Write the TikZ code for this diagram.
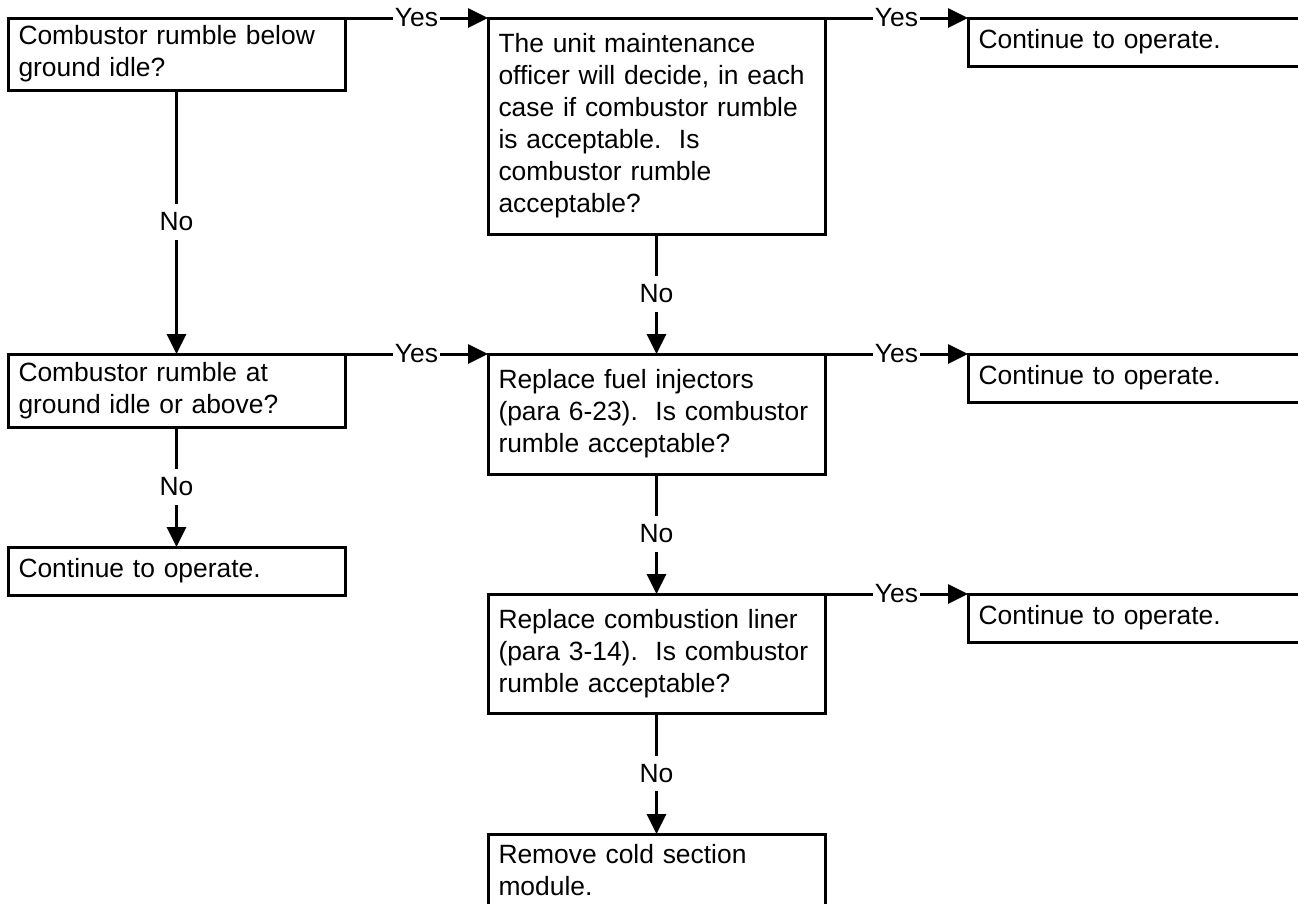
\documentclass[tikz,border=0pt]{standalone}
\usepackage{fontspec}
\setmainfont{Liberation Sans}
\usetikzlibrary{arrows.meta}
\begin{document}
\begin{tikzpicture}[x=1pt, y=-1pt,
  txt/.style={font=\fontsize{26.4}{32}\selectfont},
  box/.style={txt, draw, line width=3pt, rectangle, anchor=north west,
    outer sep=0pt, inner xsep=10.5pt, inner ysep=0pt, align=left,
    text width=316pt},
  widebox/.style={box, text width=379pt},
  lbl/.style={txt, fill=white, inner xsep=2pt, inner ysep=8.5pt},
  conn/.style={line width=3pt, -{Triangle[length=20pt,width=19pt]}}
]
\useasboundingbox (0,0) rectangle (1298,903);
\clip (0,0) rectangle (1298,903);

% left column
\node[box, minimum height=72pt] (a1) at (8,18)
  {Combustor rumble below\\ground idle?};
\node[box, minimum height=73pt] (a2) at (8,354)
  {Combustor rumble at\\ground idle or above?};
\node[box, minimum height=48pt] (a3) at (8,547)
  {Continue to operate.};

% middle column
\node[box, minimum height=216pt] (b1) at (488,18)
  {The unit maintenance\\officer will decide, in each\\case if combustor rumble\\is acceptable.\ \ Is\\combustor rumble\\acceptable?};
\node[box, minimum height=120pt] (b2) at (488,354)
  {Replace fuel injectors\\(para 6-23).\ \ Is combustor\\rumble acceptable?};
\node[box, minimum height=119pt] (b3) at (488,594)
  {Replace combustion liner\\(para 3-14).\ \ Is combustor\\rumble acceptable?};
\node[box, minimum height=72pt] (b4) at (488,834)
  {Remove cold section\\module.};

% right column
\node[widebox, minimum height=48pt] (c1) at (968,18) {Continue to operate.};
\node[widebox, minimum height=48pt] (c2) at (968,354) {Continue to operate.};
\node[widebox, minimum height=48pt] (c3) at (968,594) {Continue to operate.};

% "No" branches
\draw[conn] (a1.south) -- node[lbl]{No} (a2.north);
\draw[conn] (a2.south) -- node[lbl]{No} (a3.north);
\draw[conn] (b1.south) -- node[lbl]{No} (b2.north);
\draw[conn] (b2.south) -- node[lbl]{No} (b3.north);
\draw[conn] (b3.south) -- node[lbl]{No} (b4.north);

% "Yes" branches
\draw[conn] (a1.north east) -- node[lbl]{Yes} (b1.north west);
\draw[conn] (a2.north east) -- node[lbl]{Yes} (b2.north west);
\draw[conn] (b1.north east) -- node[lbl]{Yes} (c1.north west);
\draw[conn] (b2.north east) -- node[lbl]{Yes} (c2.north west);
\draw[conn] (b3.north east) -- node[lbl]{Yes} (c3.north west);
\end{tikzpicture}
\end{document}
